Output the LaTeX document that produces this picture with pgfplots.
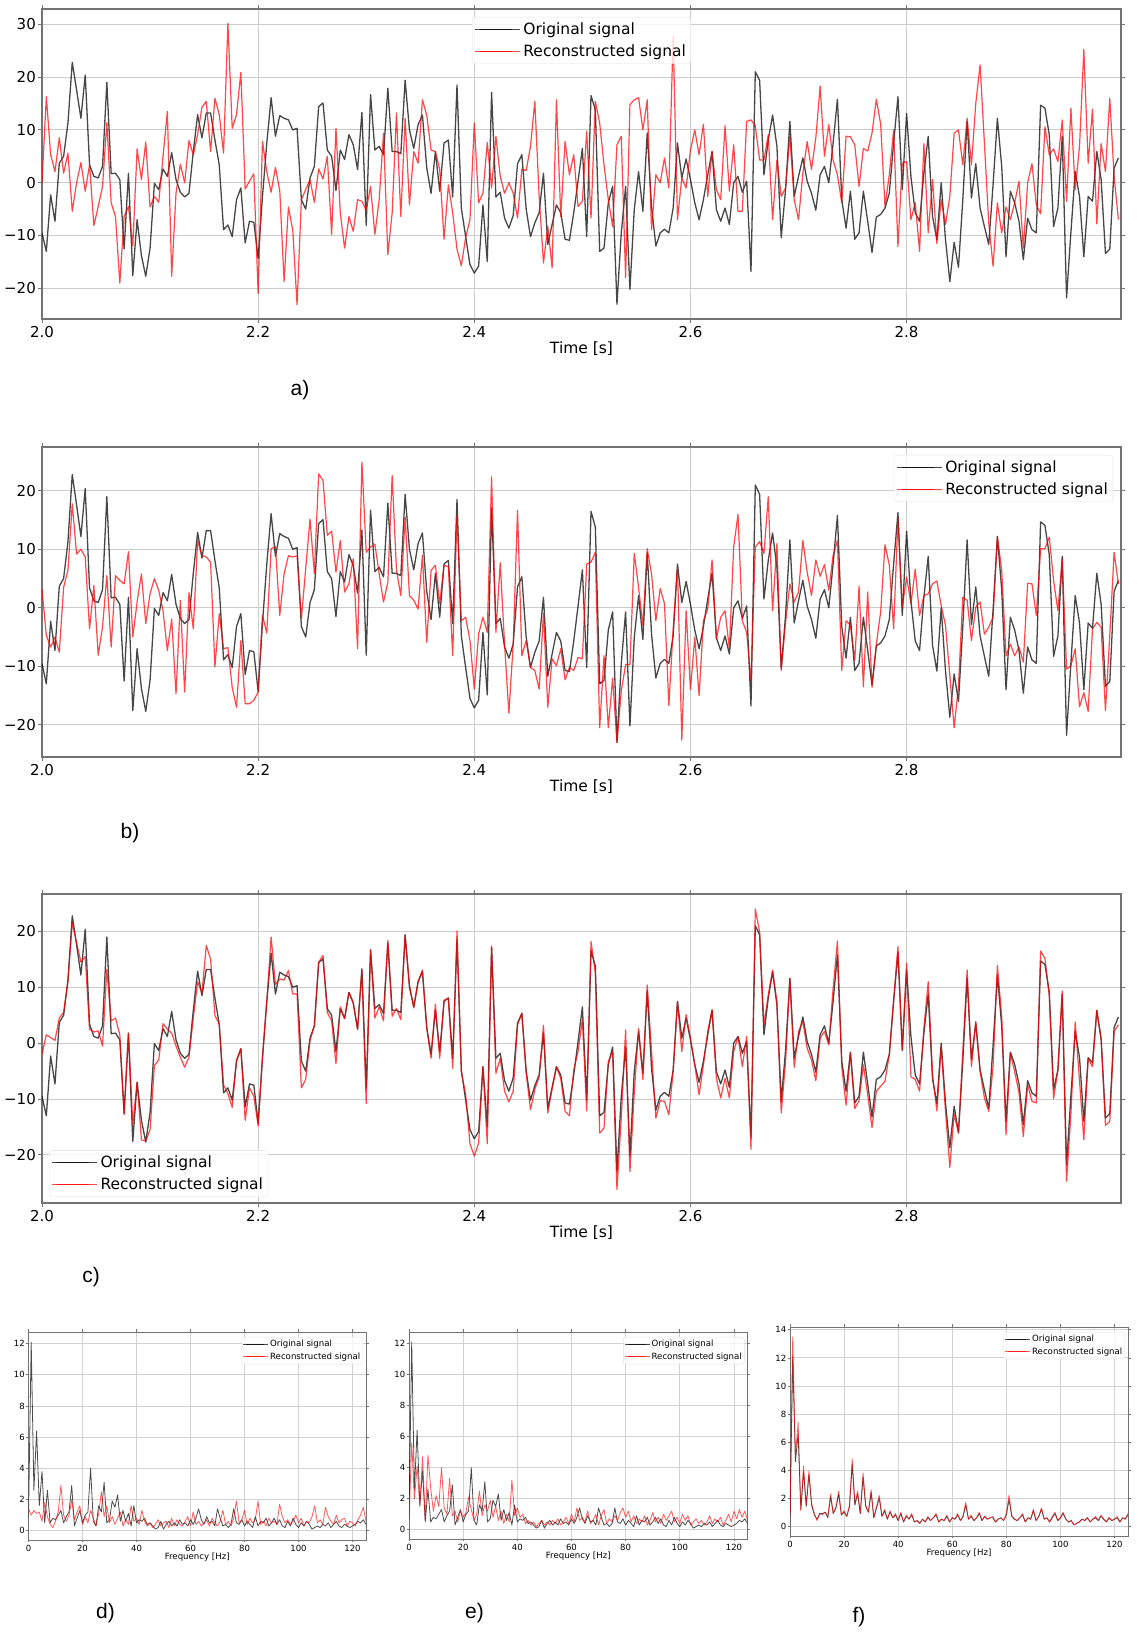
\documentclass[border=0pt]{standalone}
\usepackage{pgfplots}
\pgfplotsset{compat=1.18}
\usepackage{pgfplotstable}
\usepackage{fontspec}
\setmainfont{DejaVu Sans}
\newfontfamily\arialf{Liberation Sans}

% ---------------- time series (250 samples, 4 ms apart, starting at 2.0 s) ----------------
\pgfplotstableread[row sep=\\]{y\\
-9.5\\ -13\\ -2.3\\ -7.3\\ 3.7\\ 5\\ 11.3\\ 22.8\\ 17.6\\ 12.2\\ 20.4\\ 3.4\\ 1.2\\ 0.9\\ 3.1\\ 19\\ 1.7\\ 1.8\\ 0.6\\ -12.5\\
1.8\\ -17.6\\ -7\\ -13.8\\ -17.7\\ -12.4\\ -0.1\\ -1.3\\ 2.6\\ 1.2\\ 5.7\\ 0.6\\ -1.8\\ -2.7\\ -2\\ 5.9\\ 12.9\\ 8.5\\ 13.2\\ 13.2\\
8.1\\ 3.4\\ -8.9\\ -8\\ -10.2\\ -3.2\\ -1\\ -11.4\\ -7.3\\ -7.5\\ -14.3\\ -2.6\\ 7.5\\ 16.1\\ 8.8\\ 12.7\\ 12.2\\ 11.9\\ 10\\ 10.3\\
-3.2\\ -5\\ 0.9\\ 3.1\\ 14.4\\ 15.1\\ 6.2\\ 5\\ -1.5\\ 6.2\\ 4.4\\ 9.1\\ 7.2\\ 2.5\\ 13.3\\ -8.1\\ 16.7\\ 6.2\\ 6.9\\ 5.3\\
17.9\\ 5.9\\ 5.9\\
5.5\\ 19.4\\ 10\\ 6.5\\ 11\\ 12.8\\ 2.8\\ -2\\ 5.9\\ -1.6\\ 7.5\\ 8.1\\ -2.7\\ 18.5\\ -4.8\\ -10.2\\ -15.5\\ -17.1\\ -15.8\\ -4.2\\
-14.9\\ 17.1\\ -2.7\\ -1.8\\ -6.7\\ -8.6\\ -6.2\\ 3.6\\ 5.3\\ -5\\ -10.2\\ -7.6\\ -5.7\\ 1.8\\ -11.7\\ -7.9\\ -4.2\\ -5.7\\ -10.7\\ -10.9\\
-5.7\\ 0.3\\ 6.5\\ -10.2\\ 16.5\\ 13.8\\ -13\\ -12.4\\ -3.8\\ -0.7\\ -23\\ -9.5\\ -0.7\\ -20.2\\ -5.1\\ 2.1\\ -5.4\\ 9.4\\ -4.5\\ -12\\
-9.5\\ -8.8\\ -9.5\\ -4.8\\ 7.5\\ 0.9\\ 4.5\\ 0.6\\ -3.8\\ -7\\ -3.2\\ 1.5\\ 5.9\\ -5.1\\ -7.3\\ -4.8\\ -7.9\\ 0\\ 1.2\\ -1.8\\
0.3\\ -16.8\\ 21\\ 19.4\\ 1.5\\ 8.1\\ 12.8\\
6.9\\ -10.4\\ -1.3\\ 11.6\\ -2.6\\ 1.2\\ 4.7\\ 0.3\\ -2\\ -5.2\\ 1.5\\ 3.1\\ 0\\ 7.5\\ 15.8\\ -3.2\\ -8.6\\ -1.6\\ -10.7\\ -9.5\\
-1.6\\ -7.3\\ -13.2\\ -6.5\\ -6\\ -4.8\\ -2\\ 7.5\\ 16.3\\ -1.3\\ 13.1\\ 1.2\\ -5.7\\ -7.3\\ 1.8\\ 8.8\\ -6.4\\ -10.8\\ 0\\ -10.8\\
-18.7\\ -11.3\\ -16\\ -3.2\\ 11.6\\ -2.9\\ 3.6\\ -4.8\\ -8.3\\ -11.7\\ -0.4\\ 12.2\\ 3.1\\ -14\\ -1.6\\ -3.8\\ -7.3\\ -14.6\\ -6.7\\ -8.9\\
-9.5\\ 14.7\\ 14.1\\ 9.1\\ -8.3\\ -4.8\\ 8.8\\ -21.8\\ -9.5\\ 2.1\\ -2.6\\ -14\\ -2.6\\ -3.5\\ 5.9\\ 0.6\\ -13.4\\ -12.6\\ 2.8\\ 4.7\\
}\orig

\pgfplotstableread[row sep=\\]{y\\
0\\ 16.3\\ 5.3\\ 2.1\\ 8.5\\ 1.8\\ 5.6\\ -5.4\\ 0\\ 3.8\\ -1.6\\ 3.4\\ -8.1\\ -4.5\\ -0.7\\ 11.4\\ -3.8\\ -6.4\\ -19\\ -6.4\\
-4.5\\ -12\\ 6.4\\ 0.6\\ 7.7\\ -4.6\\ -2.6\\ -3.7\\ 5\\ 13.5\\ -17.7\\ -2\\ 3.5\\ 0\\ 8\\ 5.3\\ 9.1\\ 14.3\\ 15.4\\ 5.9\\
16\\ 12.9\\ 5.6\\ 30.2\\ 10.3\\ 12.9\\ 20.9\\ -1.2\\ 0.3\\ 1.7\\ -21\\ 7.8\\ 2.1\\ -1.8\\ 2.9\\ -1.5\\ -18.7\\ -4.6\\ -8.9\\ -23.1\\
-3.2\\ -1.3\\ 0.6\\ -3.7\\ 2.6\\ 0.7\\ 5\\ -9.8\\ 10.3\\ -5.7\\ -12.4\\ -6.4\\ -9.2\\ -3.2\\ -3.5\\ -5.2\\ -0.7\\ -9.8\\ -3.2\\ 9.4\\
-13.6\\ -5.7\\ 13.2\\
-6.4\\ 12.2\\ -4.2\\ 5.9\\ 3.7\\ 15.7\\ 12.8\\ 6.2\\ 5.9\\ 2.5\\ -10.7\\ -0.4\\ -5.7\\ -12.6\\ -15.7\\ -10.4\\ -7\\ 11.3\\ -3.8\\ -2\\
7.6\\ -1\\ 8.8\\ 1.2\\ -2\\ 0\\ -2\\ -6.7\\ 2.6\\ 2.3\\ 6.9\\ 15.4\\ -2.6\\ -15.2\\ -8.3\\ -16.1\\ 15.7\\ -6.4\\ 7.8\\ 1.5\\
5.3\\ -4.5\\ -3.5\\ 9.7\\ -6.7\\ 15.4\\ 11.3\\ 3.4\\ -3.2\\ -8.3\\ 7.2\\ 8.8\\ -18\\ 14.8\\ 15.7\\ 16.1\\ 10\\ 15.7\\ -8.9\\ 1.5\\
0\\ 4.7\\ -1\\ 27.7\\ -7\\ 0.9\\ -1\\ 6.2\\ 10\\ 5.3\\ 11.1\\ -2.6\\ 5.9\\ -1.3\\ -3.2\\ 10.8\\ -1.6\\ 7.2\\ -5.4\\ -5.4\\
11.6\\ 11.9\\ 10.8\\ 4.3\\ 4.3\\ 9.1\\ -7\\
4.3\\ -2.6\\ -1\\ 8.8\\ -3.2\\ -7\\ 1.8\\ 7.8\\ 2.5\\ 8.5\\ 18.3\\ 5\\ 11\\ 4.3\\ 1.5\\ -3.8\\ 8.8\\ 8.7\\ 7.2\\ -0.7\\
6.5\\ 6\\ 9.4\\ 15.8\\ 11.1\\ -4.5\\ 1.5\\ 10\\ -12.1\\ 3.7\\ 4\\ -7\\ -3.8\\ -13\\ 7.4\\ -9.5\\ 0.6\\ -11.5\\ -3.2\\ -7.9\\
-2.6\\ 9.4\\ 10\\ 3.4\\ 12.2\\ 3.4\\ 15\\ 22.3\\ 7.5\\ -7.6\\ -15.8\\ -3.8\\ -9.5\\ -4.6\\ -7\\ -3.8\\ 0.3\\ -12.4\\ 0\\ 3.6\\
-4.2\\ -5.9\\ 10.6\\ 5.3\\ 6.4\\ 4\\ 11.9\\ -3.5\\ 14.1\\ -1.3\\ 6.9\\ 25.2\\ 3.7\\ 13.9\\ -7.8\\ 7.4\\ 2.1\\ 16\\ 1.2\\ -7\\
}\reca

\pgfplotstableread[row sep=\\]{y\\
3.2\\ -4.7\\ -6.7\\ -5\\ -7.6\\ 3.5\\ 6.4\\ 17.8\\ 9.2\\ 10\\ 8.7\\ -3.6\\ 3.8\\ -8.1\\ -3.3\\ 5.5\\ -6.7\\ 5.5\\ 4.7\\ 4.1\\
9.6\\ -5\\ 1\\ 5.8\\ -2.7\\ 2.4\\ 5\\ 3\\ -0.5\\ -7.3\\ -1.9\\ -14.7\\ 1.3\\ -14.4\\ 2.6\\ -3.6\\ 11.5\\ 8.9\\ 8.7\\ 7.8\\
-10.1\\ -1\\ -7\\ -6.8\\ -13.6\\ -17\\ -5.6\\ -16.4\\ -16.4\\ -15.8\\ -14.4\\ -1.3\\ -4.3\\ 10.1\\ 10.5\\ -1.3\\ 5.8\\ 8.9\\ 8.7\\ 8.9\\
-1.9\\ 6.7\\ 15.2\\ 5.9\\ 22.9\\ 21.8\\ 12.4\\ 13.1\\ 6.1\\ 11.5\\ 2.7\\ 4.1\\ 8.4\\ -7\\ 24.9\\ 9.5\\ 10.4\\ 10.9\\ 5.8\\ 1\\
4.4\\ 22.6\\ 6.4\\
2.1\\ 15.5\\ 2.1\\ 1.3\\ -0.2\\ 9\\ -5.9\\ 6.4\\ 7.3\\ 0.7\\ 7.3\\ 7\\ -8.2\\ 15.8\\ -2.2\\ -1.6\\ -5.6\\ -13.9\\ -4.5\\ -1.6\\
-4.2\\ 22.4\\ -4.2\\ 7.7\\ -6.2\\ -18\\ -6.2\\ 16.7\\ -8.2\\ -5.6\\ -10.2\\ -10.7\\ -13.9\\ -1\\ -17\\ -8.7\\ -9.9\\ -7\\ -12.3\\ -10.2\\
-10.7\\ -8.5\\ -8.7\\ 7.5\\ 7.8\\ 9.5\\ -20.5\\ -8.2\\ -20.5\\ -12\\ -23\\ -14.2\\ -9.7\\ -9.7\\ 9.3\\ 3.5\\ -3\\ 10.1\\ 5.8\\ -2.2\\
3.3\\ 0.7\\ -16.7\\ -3.6\\ 7\\ -22.6\\ -0.5\\ -14\\ -5\\ -15\\ -2.2\\ -0.2\\ 8.2\\ -5.3\\ -1.6\\ -0.5\\ -7\\ 10.4\\ 16\\ -2.2\\
-4.2\\ -12.4\\ 10.4\\ 11.3\\ 9.3\\ 19\\ -0.5\\
11\\ -10.7\\ -2.5\\ 4.1\\ 1\\ 2.7\\ 11.5\\ 6.1\\ 2.1\\ 8.2\\ 5.4\\ 7.4\\ 3\\ 9\\ 11.5\\ -10.7\\ -2.2\\ -3\\ -9\\ 3.7\\
-13.5\\ 2.7\\ -13.6\\ -6.2\\ -0.7\\ 10.8\\ 7.3\\ -3.6\\ 15.3\\ 0.1\\ 5.3\\ 0.7\\ 6.6\\ -1.3\\ 2.1\\ 2.4\\ 4.1\\ 4.6\\ 0.4\\ -3\\
-11.6\\ -20.5\\ -13.3\\ 1.8\\ 1.3\\ -5.6\\ 0.1\\ 1\\ -4.5\\ -3.3\\ -1.6\\ 12.2\\ 6.4\\ -8.2\\ -6.2\\ -8.2\\ -6.7\\ -9.3\\ 4.2\\ 4.1\\
-1.3\\ 10.1\\ 10.1\\ 12.1\\ 4.7\\ -0.5\\ 8.4\\ -10.5\\ -9.9\\ -7\\ -16.9\\ -14.5\\ -17.7\\ -3.6\\ -2.5\\ -3.3\\ -17.6\\ -4.7\\ 9.5\\ 4.1\\
}\recb

\pgfplotstableread[row sep=\\]{y\\
-2\\ 1.5\\ 1\\ 0.5\\ 4.5\\ 5.5\\ 11\\ 21.5\\ 18\\ 14.5\\ 15.5\\ 2.5\\ 2\\ 2.2\\ -0.5\\ 13.2\\ 4\\ 4.5\\ 1.5\\ -12.8\\
1.8\\ -14.5\\ -7\\ -17.3\\ -17.5\\ -15.5\\ -4\\ -3\\ 3.5\\ 2.5\\ 1.8\\ -0.5\\ -2.5\\ -4.3\\ -2.5\\ 4.5\\ 11\\ 9\\ 17.5\\ 15\\
5\\ 3.4\\ -7.5\\ -9\\ -11.5\\ -3\\ -1\\ -13.8\\ -8\\ -9.5\\ -14.8\\ -2.6\\ 7.5\\ 19\\ 10.5\\ 11.5\\ 11.3\\ 13\\ 8.8\\ 8.8\\
-8\\ -6.5\\ 0.5\\ 3.1\\ 14.5\\ 15.7\\ 5.5\\ 4\\ -3.7\\ 6.5\\ 4.4\\ 9.1\\ 7.2\\ 2.5\\ 13\\ -10.8\\ 16.7\\ 4.5\\ 6.5\\ 4\\
18.4\\ 4.8\\ 6.2\\
4.2\\ 19.3\\ 10.4\\ 6.3\\ 11\\ 13.1\\ 2.7\\ -2.7\\ 7\\ -2.7\\ 7.7\\ 8\\ -4.5\\ 20.1\\ -5.1\\ -9.2\\ -18\\ -20.2\\ -17.9\\ -4.2\\
-18\\ 17.4\\ -5.4\\ -2.7\\ -8.6\\ -10.5\\ -8.6\\ 3.3\\ 5.4\\ -5.4\\ -11.9\\ -8.3\\ -6\\ 3.2\\ -12.5\\ -8.2\\ -4.3\\ -6.3\\ -12.2\\ -13\\
-4.8\\ -1.5\\ 4.2\\ -12.1\\ 18.2\\ 12.5\\ -16.1\\ -15.2\\ -3.3\\ -1.5\\ -26.2\\ -13.4\\ 2.4\\ -23\\ -8.9\\ 2.6\\ -6.5\\ 10.4\\ -1.5\\ -13.4\\
-10.3\\ -10.4\\ -12.8\\ -5.1\\ 7.4\\ -1.5\\ 5.1\\ 0.9\\ -3.9\\ -9.2\\ -3.9\\ 2.1\\ 6\\ -6.3\\ -9.8\\ -6.3\\ -9.8\\ -1.5\\ 1.2\\ -4.2\\
1.2\\ -19\\ 24\\ 19.9\\ 3.3\\ 8.6\\ 13.1\\
7.4\\ -12.5\\ -3.3\\ 11.6\\ -4.3\\ 2.1\\ 3.9\\ -0.9\\ -3\\ -6.7\\ 0.9\\ 2.1\\ -0.3\\ 9.8\\ 18.3\\ -4.2\\ -11.1\\ -1.8\\ -11.7\\ -10.3\\
-3.9\\ -9.2\\ -15.1\\ -8.6\\ -7.7\\ -6.8\\ -2.1\\ 7.7\\ 17.3\\ -1.2\\ 14.3\\ -6\\ -6.5\\ -8.6\\ 2.7\\ 11\\ -5.7\\ -12.1\\ -0.6\\ -12.2\\
-22.2\\ -12.7\\ -16.1\\ -1.5\\ 13.1\\ -4.2\\ 3.9\\ -5.1\\ -9.8\\ -12.2\\ -4.2\\ 13.9\\ 4.8\\ -16.4\\ -1.8\\ -5.1\\ -8.9\\ -16.7\\ -7.4\\ -10.4\\
-10.7\\ 16.5\\ 15.2\\ 8.6\\ -9.9\\ -4.8\\ 9.3\\ -24.7\\ -12.8\\ 3.8\\ -6.8\\ -17.3\\ -2.7\\ -4.2\\ 5.8\\ 0.9\\ -14.7\\ -14\\ 2.1\\ 3.3\\
}\recc

% ---------------- spectra (1 Hz bins, 0 ... 125 Hz) ----------------
\pgfplotstableread[row sep=\\]{y\\
0.8\\ 12.1\\ 2.6\\ 6.4\\ 1.6\\ 3.8\\ 0.5\\ 2.6\\ 0.5\\ 0.8\\ 0.7\\ 1.0\\ 1.3\\ 0.5\\ 0.9\\ 1.2\\ 2.9\\ 0.3\\ 0.8\\ 1.3\\
0.5\\ 1.0\\ 1.2\\ 4.0\\ 0.6\\ 0.3\\ 1.6\\ 1.2\\ 3.1\\ 0.5\\ 0.7\\ 1.9\\ 1.5\\ 2.3\\ 0.6\\ 1.3\\ 0.6\\ 1.1\\ 0.3\\ 1.6\\
0.5\\ 0.7\\ 0.6\\ 0.8\\ 0.4\\ 0.5\\ 0.3\\ 0.1\\ 0.2\\ 0.6\\ 0.1\\ 0.4\\ 0.6\\ 0.3\\ 0.5\\ 0.3\\ 0.7\\ 0.4\\ 0.5\\ 0.3\\
0.7\\ 0.4\\ 0.8\\ 1.4\\ 0.7\\ 0.4\\ 0.9\\ 0.5\\ 0.6\\ 0.3\\ 1.4\\ 0.8\\ 0.3\\ 0.4\\ 0.2\\ 0.4\\ 1.4\\ 0.5\\ 0.4\\ 0.7\\
0.3\\ 0.6\\ 0.4\\ 0.2\\ 0.9\\ 0.3\\ 0.6\\ 0.5\\ 0.8\\ 0.3\\ 0.5\\ 0.8\\ 0.4\\ 0.7\\ 0.3\\ 0.2\\ 0.6\\ 0.3\\ 0.8\\ 0.4\\
0.2\\ 0.5\\ 0.3\\ 0.6\\ 0.4\\ 0.1\\ 0.2\\ 0.3\\ 0.2\\ 0.4\\ 0.3\\ 0.5\\ 0.2\\ 0.4\\ 0.6\\ 0.3\\ 0.2\\ 0.4\\ 0.3\\ 0.2\\
0.3\\ 0.4\\ 0.6\\ 0.5\\ 0.7\\ 0.4\\
}\sorig

\pgfplotstableread[row sep=\\]{y\\
1.4\\ 1.0\\ 1.3\\ 1.1\\ 1.2\\ 0.6\\ 1.8\\ 0.9\\ 0.4\\ 0.2\\ 0.6\\ 1.2\\ 2.9\\ 1.0\\ 0.6\\ 1.0\\ 2.0\\ 0.7\\ 1.2\\ 1.6\\
0.4\\ 0.9\\ 0.5\\ 1.3\\ 0.8\\ 0.3\\ 1.1\\ 2.5\\ 0.9\\ 1.6\\ 0.5\\ 0.9\\ 0.4\\ 0.8\\ 1.2\\ 0.3\\ 0.7\\ 0.4\\ 1.6\\ 0.6\\
0.8\\ 0.4\\ 1.3\\ 0.6\\ 0.3\\ 0.5\\ 0.2\\ 0.4\\ 0.7\\ 0.3\\ 0.5\\ 0.6\\ 0.2\\ 0.8\\ 0.3\\ 0.7\\ 0.4\\ 0.3\\ 0.6\\ 0.9\\
0.3\\ 1.2\\ 0.4\\ 0.6\\ 0.3\\ 0.5\\ 0.7\\ 0.3\\ 0.8\\ 0.5\\ 0.3\\ 0.6\\ 1.3\\ 0.4\\ 0.6\\ 0.3\\ 0.8\\ 1.9\\ 0.5\\ 0.7\\
1.3\\ 0.4\\ 0.8\\ 0.5\\ 0.7\\ 1.9\\ 0.4\\ 0.6\\ 0.3\\ 0.8\\ 0.5\\ 0.6\\ 0.4\\ 1.7\\ 0.9\\ 0.5\\ 0.7\\ 0.4\\ 0.6\\ 1.0\\
0.5\\ 0.8\\ 0.3\\ 0.6\\ 0.5\\ 0.9\\ 1.6\\ 0.5\\ 0.7\\ 0.4\\ 1.5\\ 0.9\\ 0.6\\ 0.4\\ 1.0\\ 0.5\\ 0.7\\ 0.8\\ 0.3\\ 0.6\\
0.5\\ 0.3\\ 0.7\\ 1.0\\ 1.5\\ 0.6\\
}\sreca

\pgfplotstableread[row sep=\\]{y\\
0.5\\ 5.6\\ 2.0\\ 4.1\\ 1.5\\ 4.7\\ 0.6\\ 4.8\\ 2.7\\ 1.2\\ 2.2\\ 1.5\\ 4.0\\ 1.4\\ 1.0\\ 3.3\\ 0.9\\ 1.2\\ 0.5\\ 1.2\\
0.8\\ 1.1\\ 2.1\\ 1.3\\ 0.6\\ 1.0\\ 2.5\\ 0.9\\ 1.6\\ 1.2\\ 1.9\\ 0.8\\ 1.5\\ 0.6\\ 1.2\\ 0.4\\ 1.0\\ 0.5\\ 3.2\\ 0.9\\
1.4\\ 0.8\\ 1.0\\ 0.4\\ 0.6\\ 0.3\\ 0.5\\ 0.2\\ 0.4\\ 0.6\\ 0.3\\ 0.5\\ 0.3\\ 0.6\\ 0.4\\ 0.7\\ 0.3\\ 0.5\\ 0.8\\ 0.4\\
1.0\\ 0.5\\ 1.4\\ 0.6\\ 0.8\\ 0.5\\ 1.2\\ 0.4\\ 0.6\\ 1.0\\ 0.3\\ 0.9\\ 1.3\\ 0.4\\ 0.7\\ 0.5\\ 0.9\\ 0.6\\ 1.1\\ 1.4\\
0.8\\ 1.2\\ 0.5\\ 0.9\\ 0.4\\ 0.7\\ 0.5\\ 0.9\\ 0.3\\ 0.6\\ 1.1\\ 0.5\\ 0.8\\ 0.4\\ 1.0\\ 0.6\\ 0.9\\ 1.2\\ 0.5\\ 0.8\\
0.4\\ 1.0\\ 0.6\\ 0.9\\ 0.3\\ 0.5\\ 0.7\\ 0.4\\ 0.6\\ 0.3\\ 0.5\\ 0.9\\ 0.4\\ 0.7\\ 0.5\\ 0.8\\ 0.3\\ 0.6\\ 1.0\\ 0.5\\
1.2\\ 0.7\\ 1.3\\ 0.8\\ 1.2\\ 0.6\\
}\srecb

\pgfplotstableread[row sep=\\]{y\\
0.7\\ 12.1\\ 4.6\\ 6.6\\ 1.2\\ 3.9\\ 1.4\\ 3.7\\ 1.5\\ 0.8\\ 0.5\\ 0.9\\ 0.9\\ 1.0\\ 0.6\\ 2.1\\ 0.9\\ 1.3\\ 2.3\\ 0.8\\
1.0\\ 0.7\\ 1.4\\ 4.4\\ 1.5\\ 2.3\\ 0.9\\ 3.5\\ 1.4\\ 1.0\\ 2.4\\ 0.6\\ 1.3\\ 2.0\\ 0.7\\ 1.1\\ 0.5\\ 1.0\\ 0.6\\ 0.8\\
0.4\\ 0.9\\ 0.3\\ 0.7\\ 0.5\\ 0.8\\ 0.3\\ 0.4\\ 0.2\\ 0.5\\ 0.3\\ 0.6\\ 0.4\\ 0.6\\ 0.8\\ 0.3\\ 0.5\\ 0.4\\ 0.7\\ 0.3\\
0.6\\ 0.5\\ 0.8\\ 0.4\\ 0.7\\ 1.5\\ 0.5\\ 0.7\\ 0.4\\ 0.6\\ 0.9\\ 0.4\\ 0.7\\ 0.5\\ 0.6\\ 0.6\\ 0.3\\ 0.5\\ 0.6\\ 0.4\\
0.8\\ 1.9\\ 0.7\\ 0.5\\ 0.4\\ 0.6\\ 0.8\\ 0.3\\ 0.6\\ 0.5\\ 1.1\\ 0.4\\ 0.7\\ 1.2\\ 0.5\\ 0.6\\ 0.3\\ 0.6\\ 0.9\\ 0.4\\
0.6\\ 0.9\\ 0.5\\ 0.3\\ 0.4\\ 0.1\\ 0.2\\ 0.3\\ 0.5\\ 0.4\\ 0.6\\ 0.3\\ 0.5\\ 0.6\\ 0.4\\ 0.7\\ 0.5\\ 0.3\\ 0.6\\ 0.4\\
0.5\\ 0.6\\ 0.3\\ 0.6\\ 0.5\\ 0.8\\
}\sorigf

\pgfplotstableread[row sep=\\]{y\\
0.6\\ 13.5\\ 5.0\\ 7.4\\ 1.1\\ 4.3\\ 1.5\\ 3.9\\ 1.6\\ 0.9\\ 0.4\\ 0.9\\ 0.8\\ 1.0\\ 0.7\\ 2.3\\ 0.9\\ 1.4\\ 2.5\\ 0.8\\
1.1\\ 0.7\\ 1.5\\ 4.8\\ 1.6\\ 2.5\\ 0.9\\ 3.8\\ 1.5\\ 1.0\\ 2.6\\ 0.6\\ 1.4\\ 2.2\\ 0.7\\ 1.2\\ 0.5\\ 1.1\\ 0.6\\ 0.9\\
0.4\\ 1.0\\ 0.3\\ 0.8\\ 0.5\\ 0.9\\ 0.3\\ 0.4\\ 0.2\\ 0.5\\ 0.3\\ 0.7\\ 0.4\\ 0.6\\ 0.9\\ 0.3\\ 0.5\\ 0.4\\ 0.8\\ 0.3\\
0.6\\ 0.5\\ 0.9\\ 0.4\\ 0.7\\ 1.7\\ 0.5\\ 0.8\\ 0.4\\ 0.6\\ 1.0\\ 0.4\\ 0.7\\ 0.5\\ 0.6\\ 0.7\\ 0.3\\ 0.5\\ 0.6\\ 0.4\\
0.9\\ 2.2\\ 0.8\\ 0.5\\ 0.4\\ 0.6\\ 0.9\\ 0.3\\ 0.6\\ 0.5\\ 1.2\\ 0.4\\ 0.7\\ 1.3\\ 0.5\\ 0.6\\ 0.3\\ 0.7\\ 1.0\\ 0.4\\
0.6\\ 1.0\\ 0.5\\ 0.3\\ 0.4\\ 0.1\\ 0.2\\ 0.3\\ 0.5\\ 0.4\\ 0.6\\ 0.3\\ 0.5\\ 0.7\\ 0.4\\ 0.8\\ 0.5\\ 0.3\\ 0.6\\ 0.4\\
0.5\\ 0.7\\ 0.3\\ 0.6\\ 0.5\\ 0.9\\
}\srecc

\pgfplotsset{
  common/.style={
    scale only axis,
    grid=major, major grid style={black!20, line width=1pt},
    axis line style={black!55, line width=1.2pt},
    tick style={black!55, line width=1pt},
    tick align=outside,
    legend cell align=left,
  },
  tsaxis/.style={
    common,
    width=1079pt, height=310pt,
    xmin=0, xmax=249.6,
    xtick={0,50,100,150,200}, xticklabels={2.0,2.2,2.4,2.6,2.8},
    major tick length=4pt,
    xticklabel style={font=\fontsize{15}{18}\selectfont, anchor=north, inner sep=0pt, yshift=-3pt},
    yticklabel style={font=\fontsize{15}{18}\selectfont, anchor=east, inner sep=0pt, xshift=-2pt},
    xlabel={Time [s]},
    xlabel style={font=\fontsize{15.5}{18}\selectfont, at={(axis description cs:0.5,0)}, anchor=center, yshift=-30pt},
    legend style={font=\fontsize{15.5}{19}\selectfont, draw=black!12, rounded corners=3pt,
      fill=white, fill opacity=0.8, text opacity=1, draw opacity=1,
      inner xsep=2pt, inner ysep=1.5pt,
      nodes={inner ysep=4.2pt, inner xsep=3pt}},
    legend image code/.code={\path (0pt,0pt) -- (45pt,0pt);
      \draw[#1, line width=1.2pt] (5pt,0pt) -- (37pt,0pt);},
  },
  spaxis/.style={
    common,
    xmin=0, xmax=125,
    xtick={0,20,40,60,80,100,120},
    major tick length=2.5pt,
    major grid style={black!18, line width=0.8pt},
    axis line style={black!55, line width=0.9pt},
    tick style={black!55, line width=0.7pt},
    /pgf/number format/assume math mode=true,
    xticklabel style={font=\fontsize{8.5}{10}\selectfont, anchor=north, inner sep=0pt, yshift=-2pt},
    yticklabel style={font=\fontsize{8.5}{10}\selectfont, anchor=east, inner sep=0pt, xshift=-1pt},
    xlabel={Frequency [Hz]},
    xlabel style={font=\fontsize{8.6}{10}\selectfont, at={(axis description cs:0.5,0)}, anchor=center, yshift=-17pt},
    legend style={font=\fontsize{8.6}{10}\selectfont, draw=black!12, rounded corners=2pt,
      fill=white, fill opacity=0.8, text opacity=1, draw opacity=1,
      at={(1,1)}, anchor=north east, xshift=-3pt, yshift=-5pt,
      inner xsep=1pt, inner ysep=1pt,
      nodes={inner ysep=2.2pt, inner xsep=1.5pt}},
    legend image code/.code={\path (0pt,0pt) -- (25pt,0pt);
      \draw[#1, line width=0.9pt] (3pt,0pt) -- (21pt,0pt);},
  },
  origline/.style={black, draw opacity=0.72, line width=1.3pt, line join=round},
  recline/.style={red, draw opacity=0.72, line width=1.2pt, line join=round},
  sorigline/.style={black, draw opacity=0.7, line width=0.8pt, line join=round},
  srecline/.style={red, draw opacity=0.65, line width=0.8pt, line join=round},
}

\begin{document}
\begin{tikzpicture}[x=1pt,y=1pt]
\path[use as bounding box] (0pt,0pt) rectangle (1142pt,1637pt);

% ---- a)
\begin{axis}[tsaxis, at={(42pt,1318pt)}, anchor=south west,
  ymin=-25.8, ymax=32.9, ytick={-20,-10,0,10,20,30},
  yticklabels={−20,−10,0,10,20,30},
  legend style={at={(0.5,1)}, anchor=north, yshift=-8pt}]
\addplot[origline] table[x expr=\coordindex, y=y] {\orig};
\addplot[recline] table[x expr=\coordindex, y=y] {\reca};
\legend{Original signal, Reconstructed signal}
\end{axis}

% ---- b)
\begin{axis}[tsaxis, at={(42pt,880pt)}, anchor=south west,
  ymin=-25.5, ymax=27.5, ytick={-20,-10,0,10,20},
  yticklabels={−20,−10,0,10,20},
  legend style={at={(1,1)}, anchor=north east, xshift=-8pt, yshift=-8pt}]
\addplot[origline] table[x expr=\coordindex, y=y] {\orig};
\addplot[recline] table[x expr=\coordindex, y=y] {\recb};
\legend{Original signal, Reconstructed signal}
\end{axis}

% ---- c)
\begin{axis}[tsaxis, at={(42pt,434pt)}, anchor=south west, height=309pt,
  ymin=-28.6, ymax=26.7, ytick={-20,-10,0,10,20},
  yticklabels={−20,−10,0,10,20},
  legend style={at={(0,0)}, anchor=south west, xshift=7pt, yshift=6pt}]
\addplot[origline] table[x expr=\coordindex, y=y] {\orig};
\addplot[recline] table[x expr=\coordindex, y=y] {\recc};
\legend{Original signal, Reconstructed signal}
\end{axis}

% ---- d)
\begin{axis}[spaxis, at={(28.5pt,97pt)}, anchor=south west, width=337.5pt, height=208pt,
  ymin=-0.6, ymax=12.75, ytick={0,2,4,6,8,10,12}]
\addplot[sorigline] table[x expr=\coordindex, y=y] {\sorig};
\addplot[srecline] table[x expr=\coordindex, y=y] {\sreca};
\legend{Original signal, Reconstructed signal}
\end{axis}

% ---- e)
\begin{axis}[spaxis, at={(409pt,98pt)}, anchor=south west, width=338.5pt, height=207pt,
  ymin=-0.6, ymax=12.75, ytick={0,2,4,6,8,10,12}]
\addplot[sorigline] table[x expr=\coordindex, y=y] {\sorig};
\addplot[srecline] table[x expr=\coordindex, y=y] {\srecb};
\legend{Original signal, Reconstructed signal}
\end{axis}

% ---- f)
\begin{axis}[spaxis, at={(790pt,101pt)}, anchor=south west, width=338pt, height=209pt,
  ymin=-0.7, ymax=14.2, ytick={0,2,4,6,8,10,12,14}]
\addplot[sorigline] table[x expr=\coordindex, y=y] {\sorigf};
\addplot[srecline] table[x expr=\coordindex, y=y] {\srecc};
\legend{Original signal, Reconstructed signal}
\end{axis}

% ---- panel labels
\node[font=\arialf\fontsize{21}{24}\selectfont] at (300pt,1247pt) {a)};
\node[font=\arialf\fontsize{21}{24}\selectfont] at (130pt,804pt) {b)};
\node[font=\arialf\fontsize{21}{24}\selectfont] at (91pt,360pt) {c)};
\node[font=\arialf\fontsize{21}{24}\selectfont] at (105.5pt,24pt) {d)};
\node[font=\arialf\fontsize{21}{24}\selectfont] at (474.5pt,24pt) {e)};
\node[font=\arialf\fontsize{21}{24}\selectfont] at (859pt,20pt) {f)};
\end{tikzpicture}
\end{document}
